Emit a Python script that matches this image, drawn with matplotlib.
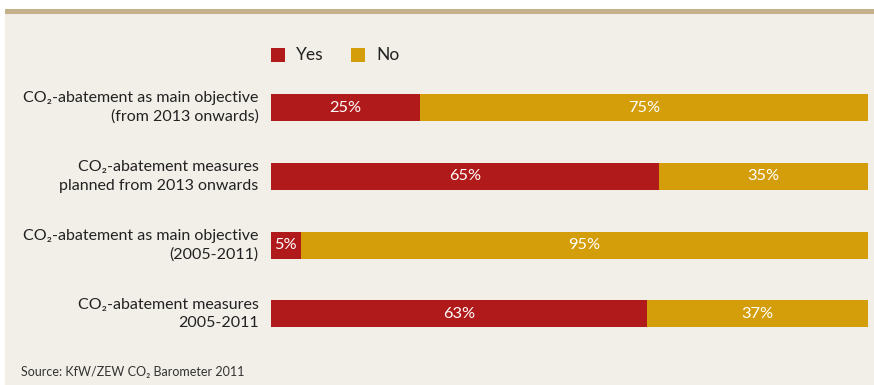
import matplotlib.pyplot as plt
from matplotlib.patches import Rectangle

# data
labels = ["CO\u2082-abatement as main objective\n(from 2013 onwards)",
          "CO\u2082-abatement measures\nplanned from 2013 onwards",
          "CO\u2082-abatement as main objective\n(2005-2011)",
          "CO\u2082-abatement measures\n2005-2011"]
yes = [25, 65, 5, 63]
no = [75, 35, 95, 37]
series_names = ["Yes", "No"]

red = "#B01A1B"
gold = "#D49E0A"
bg = "#F2EFE8"
tan = "#C4B189"

plt.rcParams['font.family'] = ['Lato', 'DejaVu Sans']

W, H = 874, 385
fig = plt.figure(figsize=(W / 100, H / 100), dpi=100, facecolor="white")

# background panel and header rule
fig.add_artist(Rectangle((5 / W, 0), 1, 1 - 14 / H, transform=fig.transFigure,
                         facecolor=bg, edgecolor="none", zorder=0))
fig.add_artist(Rectangle((5 / W, 1 - 13.5 / H), 1, 4 / H, transform=fig.transFigure,
                         facecolor=tan, edgecolor="none", zorder=0))

ax = fig.add_axes([271 / W, 1 - 348.3 / H, (868 - 271) / W, 275.2 / H])
ax.set_facecolor("none")
pos = range(len(labels))
bh = 0.39
ax.barh(pos, yes, height=bh, color=red)
ax.barh(pos, no, left=yes, height=bh, color=gold)

for i in pos:
    ax.text(yes[i] / 2, i, f"{yes[i]}%", ha="center", va="center",
            color="white", fontsize=11.8)
    ax.text(yes[i] + no[i] / 2, i, f"{no[i]}%", ha="center", va="center",
            color="white", fontsize=11.8)
    ax.text(-2.1, i, labels[i], ha="right", va="center",
            fontsize=11.5, color="#222222", linespacing=1.4)

ax.set_xlim(0, 100)
ax.set_ylim(3.5, -0.5)
ax.axis("off")

# legend
for (x0, name, c) in [(271, series_names[0], red), (351, series_names[1], gold)]:
    fig.add_artist(Rectangle((x0 / W, 1 - 62 / H), 14 / W, 14 / H,
                             transform=fig.transFigure, facecolor=c, edgecolor="none"))
    fig.text((x0 + 25) / W, 1 - 55 / H, name, ha="left", va="center",
             fontsize=12.5, color="#222222")

fig.text(21 / W, 1 - 372 / H, "Source: KfW/ZEW CO\u2082 Barometer 2011",
         ha="left", va="center", fontsize=9, color="#333333")

plt.savefig("out.png", dpi=100, facecolor="white")
